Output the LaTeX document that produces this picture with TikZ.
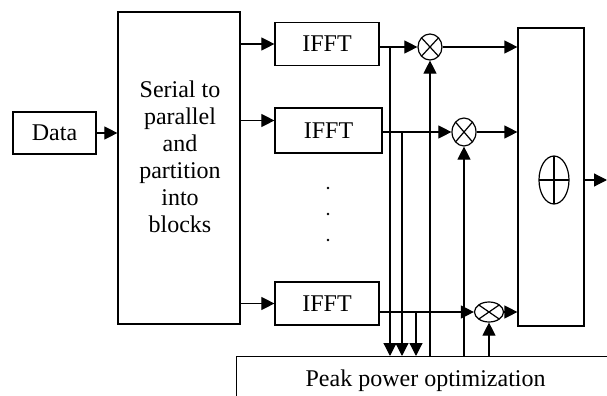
\documentclass[tikz,border=0pt]{standalone}
\usepackage{fontspec}
\setmainfont{Liberation Serif}
\usetikzlibrary{shapes.geometric, arrows.meta}

\begin{document}
\begin{tikzpicture}[x=0.5pt, y=-0.5pt, line width=0.6pt,
    >={Triangle[length=6.5pt, width=6.5pt]},
    font=\fontsize{12}{13.5}\selectfont,
    blk/.style={draw, rectangle, inner sep=0pt},
    mul/.style={draw, ellipse, inner sep=0pt, path picture={
        \draw (path picture bounding box.north east) -- (path picture bounding box.south west)
              (path picture bounding box.north west) -- (path picture bounding box.south east);}},
    add/.style={draw, ellipse, inner sep=0pt, path picture={
        \draw (path picture bounding box.north) -- (path picture bounding box.south)
              (path picture bounding box.west) -- (path picture bounding box.east);}}]
    \useasboundingbox (0, 0) rectangle (607, 396);

    \node[blk, minimum width=41.5pt, minimum height=21pt] at (54.5, 133) (data) {Data};
    \node[blk, minimum width=61pt, minimum height=156pt] at (179, 168) (sp) {};
    \node[align=center] at (180, 157) (sptext) {Serial to\\parallel\\and\\partition\\into\\blocks};

    \node[blk, minimum width=52pt, minimum height=21.5pt] at (327, 44) (ifft1) {IFFT};
    \node[blk, minimum width=53.5pt, minimum height=22.5pt] at (328.5, 130.5) (ifft2) {IFFT};
    \node[blk, minimum width=52pt, minimum height=21.5pt] at (327, 303.5) (ifft3) {IFFT};

    \node[mul, minimum width=12pt, minimum height=13pt] at (430, 47) (m1) {};
    \node[mul, minimum width=12pt, minimum height=14pt] at (464, 132) (m2) {};
    \node[mul, minimum width=14.5pt, minimum height=10pt] at (489, 312) (m3) {};

    \node[blk, minimum width=33pt, minimum height=149pt] at (551, 177) (sum) {};
    \node[add, minimum width=15pt, minimum height=24pt] at (554, 180) (plus) {};

    \node[blk, minimum width=189pt, minimum height=24pt, anchor=north west] at (236, 356) (peak) {Peak power optimization};

    % dots between the IFFT branches
    \foreach \y in {188, 214, 240}
        \fill (328, \y) circle[radius=0.7pt];

    \coordinate (in2) at ([yshift=5pt]ifft2.west);
    \coordinate (b1) at (390, 47);
    \coordinate (b2) at (402, 132);
    \coordinate (b3) at (416, 312);
    \coordinate (out) at (607, 180);

    \draw[->] (data) -- (data -| sp.west);
    \draw[->] (sp.east |- ifft1.west) -- (ifft1.west);
    \draw[->] (sp.east |- in2) -- (in2);
    \draw[->] (sp.east |- ifft3.west) -- (ifft3.west);

    \draw[->] (ifft1.east |- m1) -- (m1.west);
    \draw[->] (ifft2.east |- m2) -- (m2.west);
    \draw[->] (ifft3.east |- m3) -- (m3.west);
    \draw[->] (m1.east) -- (sum.west |- m1);
    \draw[->] (m2.east) -- (sum.west |- m2);
    \draw[->] (m3.east) -- (sum.west |- m3);
    \draw[->] (sum.east |- plus) -- (out);

    \foreach \b in {b1, b2, b3}
        \draw[->] (\b) -- (\b |- peak.north);
    \foreach \m in {m1, m2, m3}
        \draw[->] (\m.south |- peak.north) -- (\m.south);
\end{tikzpicture}
\end{document}
